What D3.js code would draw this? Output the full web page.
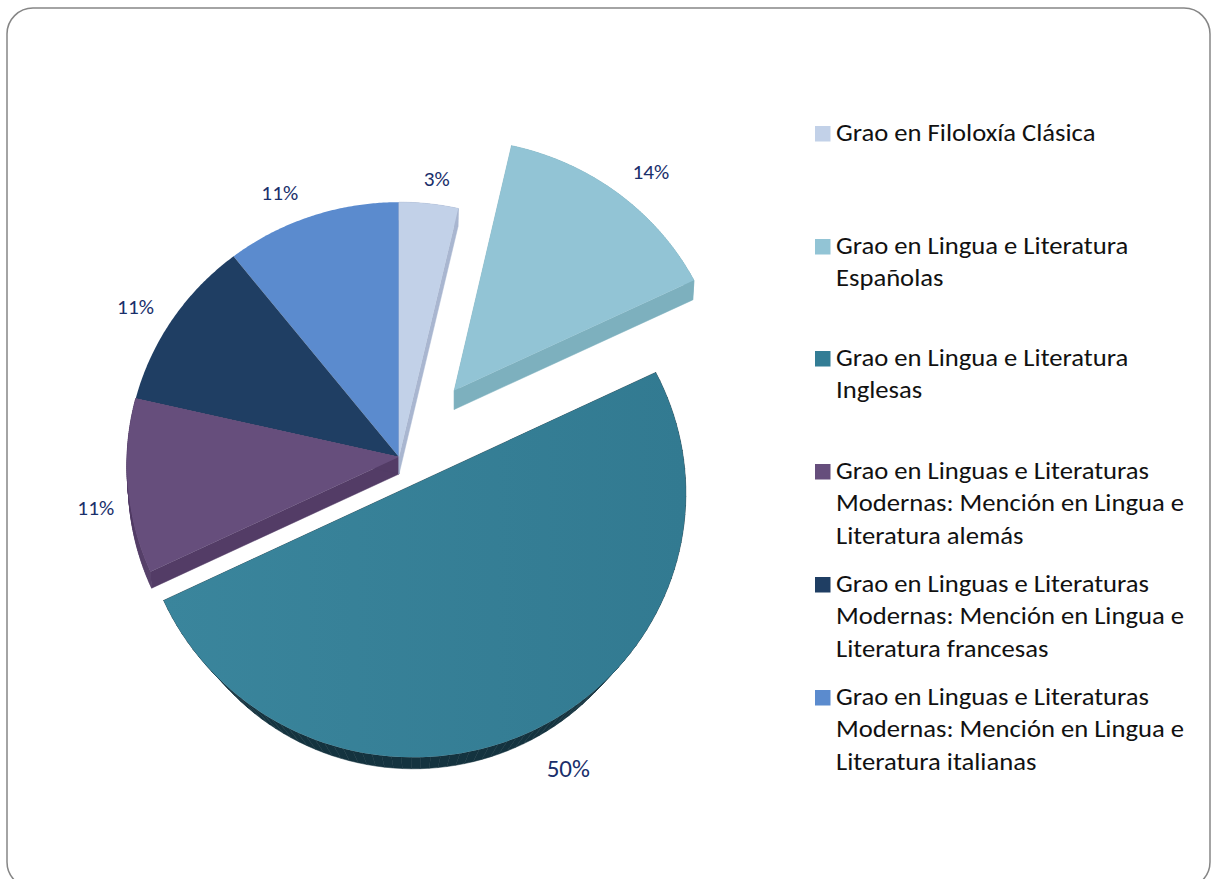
<!DOCTYPE html>
<html>
<head>
<meta charset="utf-8">
<script src="https://cdnjs.cloudflare.com/ajax/libs/d3/7.8.5/d3.min.js"></script>
<style>
  html, body { margin: 0; padding: 0; background: #fff; overflow: hidden; }
  text { font-family: Carlito, "Open Sans", "Noto Sans", sans-serif; }
</style>
</head>
<body>
<div id="viz"></div>
<script>
// Datos
var categorias = [
  ['Grao en Filoloxía Clásica'],
  ['Grao en Lingua e Literatura', 'Españolas'],
  ['Grao en Lingua e Literatura', 'Inglesas'],
  ['Grao en Linguas e Literaturas', 'Modernas: Mención en Lingua e', 'Literatura alemás'],
  ['Grao en Linguas e Literaturas', 'Modernas: Mención en Lingua e', 'Literatura francesas'],
  ['Grao en Linguas e Literaturas', 'Modernas: Mención en Lingua e', 'Literatura italianas']
];
var valores = [3.6, 14.3, 50, 10.7, 10.7, 10.7];
var etiquetas = ['3%', '14%', '50%', '11%', '11%', '11%'];

// Estilos por porcion
var colores = ['#c2d1e8', '#92c4d5', 'url(#gradTeal)', '#664e7c', '#1f3e63', '#5b8bce'];
var coloresLeyenda = ['#c2d1e8', '#92c4d5', '#337d95', '#664e7c', '#1f3e63', '#5b8bce'];
var coloresLado = ['#a9b6d0', '#7db0be', '#14333f', '#533c66', '#1f3e63', '#5b8bce'];
var separacion = [0, 89, 32, 0, 0, 0];     // explosion de la porcion
var bajada = [17, 19, 36, 17, 0, 0];       // corrimiento vertical de la cara de abajo
var escalaBase = [0.995, 0.995, 0.91, 0.995, 1, 1];
var tamEtiqueta = [20, 20, 23.5, 20, 20, 20];
var corrEtiqueta = [[8, -25], [33, -21], [34, 39], [-32, 22], [-37, -12], [-32, -23]];
var filasLeyenda = [133, 246, 358, 471, 584, 697];

var width = 1211, height = 879;
var cx = 399, cy = 457, radio = 272;
var c = 0.965, p = 0.03;   // aplastado y perspectiva del plano
var estiroX = 1.065;       // el texto del original esta estirado a lo ancho

var svg = d3.select('#viz').append('svg')
  .attr('width', width)
  .attr('height', height)
  .style('display', 'block');

var grad = svg.append('defs').append('linearGradient')
  .attr('id', 'gradTeal')
  .attr('x1', 0).attr('x2', 1).attr('y1', 0).attr('y2', 0);
grad.append('stop').attr('offset', 0).attr('stop-color', '#3a859c');
grad.append('stop').attr('offset', 1).attr('stop-color', '#327a91');

// Marco redondeado
svg.append('rect')
  .attr('x', 7).attr('y', 8)
  .attr('width', 1203).attr('height', 880)
  .attr('rx', 26).attr('ry', 26)
  .attr('fill', '#fff')
  .attr('stroke', '#868686')
  .attr('stroke-width', 1.5);

var pie = d3.pie().sort(null)(valores);
var r = d3.scaleLinear().domain([0, 1]).range([0, radio]);

// Plano de la torta a pantalla
function proyectar(u, v) {
  var k = 1 / (1 + p * v / radio);
  return [cx + u * k, cy - c * v * k];
}

// Contorno de la porcion: vertice + arco
function contorno(d, i) {
  var medio = (d.startAngle + d.endAngle) / 2;
  var ou = separacion[i] * Math.sin(medio), ov = separacion[i] * Math.cos(medio);
  var pasos = d3.range(0, 1.0001, 1 / 90).map(function (t) {
    var a = d.startAngle + t * (d.endAngle - d.startAngle);
    return proyectar(ou + r(1) * Math.sin(a), ov + r(1) * Math.cos(a));
  });
  return { vertice: proyectar(ou, ov), arco: pasos };
}

function base(pt, vert, i) {
  return [vert[0] + (pt[0] - vert[0]) * escalaBase[i], vert[1] + (pt[1] - vert[1]) * escalaBase[i] + bajada[i]];
}

var linea = d3.line();

// Orden: primero las de atras
[5, 4, 3, 0, 1, 2].forEach(function (i) {
  var d = pie[i];
  var o = contorno(d, i);
  var puntos = [o.vertice].concat(o.arco);
  var capa = svg.append('g');

  if (bajada[i] > 0) {
    var cerrado = puntos.concat([o.vertice]);
    // un cuadrilatero por tramo para el costado
    capa.selectAll('path.lado').data(d3.range(cerrado.length - 1)).enter().append('path')
      .attr('class', 'lado')
      .attr('d', function (j) {
        return linea([cerrado[j], cerrado[j + 1], base(cerrado[j + 1], o.vertice, i), base(cerrado[j], o.vertice, i)]) + 'Z';
      })
      .attr('fill', coloresLado[i])
      .attr('stroke', coloresLado[i])
      .attr('stroke-width', 0.5);
  }

  capa.append('path')
    .attr('d', linea(puntos) + 'Z')
    .attr('fill', colores[i]);
});

// Etiquetas de porcentaje
pie.forEach(function (d, i) {
  var o = contorno(d, i);
  var m = o.arco[45];
  svg.append('text')
    .attr('transform', 'translate(' + (m[0] + corrEtiqueta[i][0]) + ',' + (m[1] + corrEtiqueta[i][1]) + ') scale(' + estiroX + ',1)')
    .attr('text-anchor', 'middle')
    .attr('dominant-baseline', 'central')
    .attr('font-size', tamEtiqueta[i])
    .attr('fill', '#1a2f6b')
    .text(etiquetas[i]);
});

// Leyenda
var filas = svg.append('g').selectAll('g').data(categorias).enter().append('g')
  .attr('transform', function (d, i) { return 'translate(815,' + filasLeyenda[i] + ')'; });
filas.append('rect')
  .attr('x', 0).attr('y', -7)
  .attr('width', 15.5).attr('height', 15.5)
  .attr('fill', function (d, i) { return coloresLeyenda[i]; });
filas.each(function (d) {
  var g = d3.select(this);
  d.forEach(function (t, j) {
    g.append('text')
      .attr('transform', 'translate(21,' + (j * 32.7 - 1) + ') scale(' + estiroX + ',1)')
      .attr('dominant-baseline', 'central')
      .attr('font-size', 25)
      .attr('fill', '#111')
      .text(t);
  });
});
</script>
</body>
</html>
